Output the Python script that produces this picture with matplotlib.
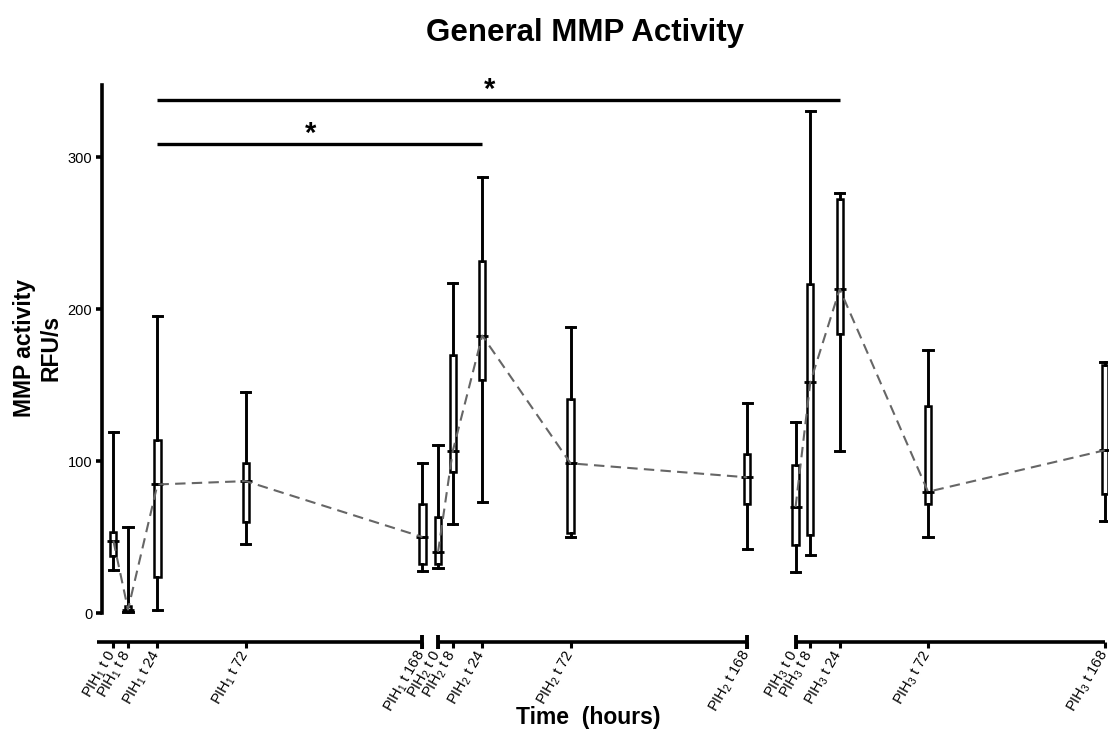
import matplotlib.pyplot as plt
from matplotlib.transforms import blended_transform_factory

plt.rcParams['font.family'] = ['Liberation Sans', 'DejaVu Sans']
plt.rcParams['mathtext.fontset'] = 'custom'
plt.rcParams['mathtext.rm'] = 'Liberation Sans'
plt.rcParams['mathtext.it'] = 'Liberation Sans:italic'
plt.rcParams['mathtext.bf'] = 'Liberation Sans:bold'

# time points (hours) for each PIH period
hours = [0, 8, 24, 72, 168]
periods = ['1', '2', '3']

# box plot stats (RFU/s)
pih1_min = [28.8, 0.8, 2.0, 45.7, 27.6]
pih1_q1 = [37.8, 1.5, 23.7, 60.0, 32.2]
pih1_med = [47.9, 2.5, 84.8, 87.0, 50.2]
pih1_q3 = [53.8, 4.5, 114.0, 99.0, 72.2]
pih1_max = [119.0, 57.0, 195.8, 145.5, 99.0]

pih2_min = [30.1, 58.5, 73.4, 49.9, 42.2]
pih2_q1 = [32.7, 92.7, 153.6, 52.9, 71.9]
pih2_med = [40.4, 106.8, 182.8, 98.7, 89.5]
pih2_q3 = [63.5, 170.0, 232.0, 141.0, 104.8]
pih2_max = [110.7, 217.3, 287.2, 188.3, 138.2]

pih3_min = [27.4, 38.4, 107.0, 50.2, 60.8]
pih3_q1 = [44.7, 51.8, 183.9, 71.7, 78.8]
pih3_med = [70.0, 152.0, 213.4, 80.0, 107.3]
pih3_q3 = [97.8, 216.7, 272.7, 136.2, 163.3]
pih3_max = [125.9, 330.5, 276.7, 173.5, 165.5]

# significant comparisons: (period, hour) vs (period, hour)
sig_pairs = [((0, 24), (1, 24)), ((0, 24), (2, 24))]

series = [
    (pih1_min, pih1_q1, pih1_med, pih1_q3, pih1_max),
    (pih2_min, pih2_q1, pih2_med, pih2_q3, pih2_max),
    (pih3_min, pih3_q1, pih3_med, pih3_q3, pih3_max),
]

# each period gets its own stretch of a shared time axis
seg_start = [0, 176.5, 370.8]
seg_left = [-8.9, 0, 0]

fig = plt.figure(figsize=(11.1, 7.43), dpi=100)
ax = fig.add_axes([0.0919, 0.1359, 0.9063, 0.7497])

tick_pos = []
tick_lab = []
for s, (lo, q1, med, q3, hi) in enumerate(series):
    pos = [seg_start[s] + h for h in hours]
    stats = [dict(whislo=a, q1=b, med=c, q3=d, whishi=e, fliers=[])
             for a, b, c, d, e in zip(lo, q1, med, q3, hi)]
    ax.bxp(stats, positions=pos, widths=3.4, capwidths=5.0, patch_artist=True,
           boxprops=dict(facecolor='white', edgecolor='black', linewidth=1.8),
           whiskerprops=dict(color='black', linewidth=2.1),
           capprops=dict(color='black', linewidth=2.1),
           medianprops=dict(color='black', linewidth=1.8),
           manage_ticks=False, zorder=3)
    ax.plot(pos, med, ls='none', marker='_', ms=8.5, mew=2.0, color='black', zorder=4)
    ax.plot(pos, med, color='#666666', lw=1.5, dashes=(5, 3), zorder=5)
    tick_pos += pos
    tick_lab += [r'PIH$_{%s}$ t %d' % (periods[s], h) for h in hours]

ax.set_xlim(-6.14, 540.6)
ax.set_ylim(-18.9, 347.7)

for side in ['top', 'right', 'bottom']:
    ax.spines[side].set_visible(False)
ax.spines['left'].set_linewidth(2.6)
ax.spines['left'].set_bounds(0, 347.7)

ax.set_yticks([0, 100, 200, 300])
ax.tick_params(axis='y', length=4, width=2.6, labelsize=10.5, pad=3)

ax.set_xticks(tick_pos)
ax.set_xticklabels(tick_lab)
ax.tick_params(axis='x', length=4, width=2.2, labelsize=10.5, pad=3)
for lab in ax.get_xticklabels():
    lab.set_rotation(60)
    lab.set_ha('right')
    lab.set_va('center')
    lab.set_rotation_mode('anchor')

# broken x axis, one piece per period
trans = blended_transform_factory(ax.transData, ax.transAxes)
for s in range(3):
    ax.plot([seg_start[s] + seg_left[s], seg_start[s] + hours[-1]], [0, 0],
            color='black', lw=2.6, transform=trans, clip_on=False,
            solid_capstyle='butt')
caps = [seg_start[0] + hours[-1], seg_start[1], seg_start[1] + hours[-1], seg_start[2]]
ax.plot(caps, [0] * len(caps), ls='none', marker='|', ms=9.4, mew=2.8,
        color='black', transform=trans, clip_on=False)

# significance bars
bar_y = [308.7, 337.7]
for (a, b), y in zip(sig_pairs, bar_y):
    x1 = seg_start[a[0]] + a[1]
    x2 = seg_start[b[0]] + b[1]
    ax.plot([x1, x2], [y, y], color='black', lw=2.4, clip_on=False,
            solid_capstyle='butt')
    ax.text((x1 + x2) / 2 - 5, y - 2.5, '*', ha='center', va='bottom',
            fontsize=21, fontweight='bold')

ax.set_ylabel('MMP activity\nRFU/s', fontsize=16.5, fontweight='bold',
              ha='center', va='center', multialignment='center')
ax.yaxis.set_label_coords(-0.0636, 0.528)
ax.set_xlabel('Time  (hours)', fontsize=16.5, fontweight='bold', va='center')
ax.xaxis.set_label_coords(0.4836, -0.1347)

fig.text(0.5266, 0.9556, 'General MMP Activity', ha='center', va='center',
         fontsize=22.5, fontweight='bold')

fig.savefig('out.png', dpi=100)
